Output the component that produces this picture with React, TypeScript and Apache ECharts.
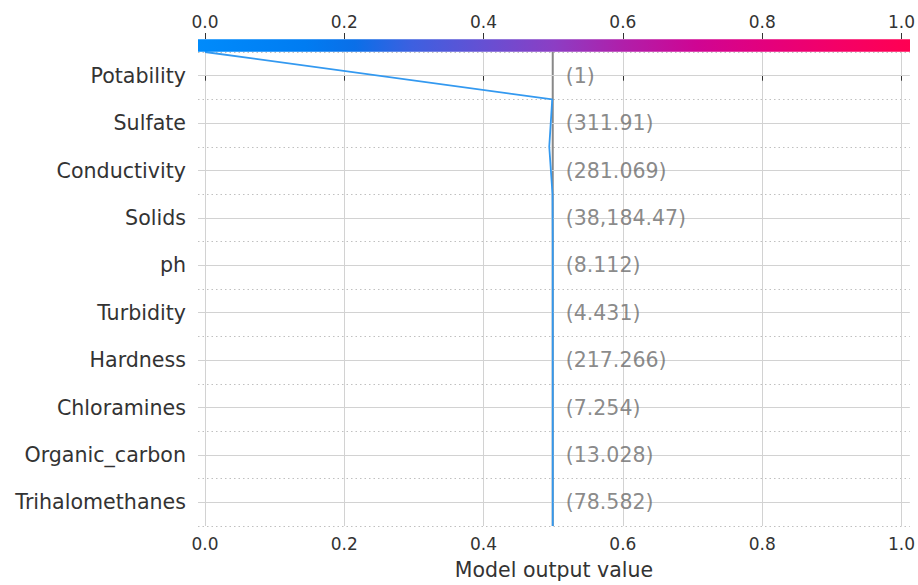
import React, { useEffect, useRef } from "react";
import * as echarts from "echarts";

// Features, top to bottom
const features = [
  "Potability",
  "Sulfate",
  "Conductivity",
  "Solids",
  "ph",
  "Turbidity",
  "Hardness",
  "Chloramines",
  "Organic_carbon",
  "Trihalomethanes",
];
const featureValues = [
  "(1)",
  "(311.91)",
  "(281.069)",
  "(38,184.47)",
  "(8.112)",
  "(4.431)",
  "(217.266)",
  "(7.254)",
  "(13.028)",
  "(78.582)",
];
const baseValue = 0.4993;
// boundary positions (row index space, top = -0.5)
const boundaryY = [-0.5, 0.5, 1.5, 2.5, 3.5, 4.5, 5.5, 6.5, 7.5, 8.5, 9.5];
// cumulative model output at each boundary, top to bottom
const cumulative = [0.0, 0.4986, 0.4943, 0.499, 0.4993, 0.4993, 0.4993, 0.4993, 0.4993, 0.4993, 0.4993];
const xTicks = [0, 0.2, 0.4, 0.6, 0.8, 1.0];
const xMin = -0.01;
const xMax = 1.012;

const colorStops = [
  { offset: 0, color: "#008bfb" },
  { offset: 0.15, color: "#007cf2" },
  { offset: 0.22, color: "#0a6fe8" },
  { offset: 0.3, color: "#3d60e0" },
  { offset: 0.4, color: "#6550d3" },
  { offset: 0.5, color: "#8c3ec4" },
  { offset: 0.6, color: "#b11ea9" },
  { offset: 0.7, color: "#cf0593" },
  { offset: 0.8, color: "#e4007c" },
  { offset: 0.9, color: "#f40066" },
  { offset: 1, color: "#ff0052" },
];

const FONT = "DejaVu Sans";

export default function App() {
  const ref = useRef<HTMLDivElement>(null);
  useEffect(() => {
    if (!ref.current) return;
    const chart = echarts.init(ref.current, undefined, { renderer: "svg" });
    const gridLeft = 198;
    const gridRight = 8;
    const gridTop = 52;
    const gridBottom = 57.7;
    const width = 918;
    const option: any = {
      animation: false,
      backgroundColor: "#ffffff",
      textStyle: { fontFamily: FONT },
      grid: { left: gridLeft, right: gridRight, top: gridTop, bottom: gridBottom, containLabel: false },
      graphic: [
        {
          type: "rect",
          shape: { x: gridLeft, y: 39.3, width: width - gridLeft - gridRight, height: 12.4 },
          style: {
            fill: new echarts.graphic.LinearGradient(0, 0, 1, 0, colorStops),
          },
          z: 10,
        },
      ],
      xAxis: [
        {
          type: "value",
          position: "bottom",
          min: xMin,
          max: xMax,
          axisLine: { show: false },
          axisTick: { show: true, length: 5, customValues: xTicks, lineStyle: { color: "#333" } },
          axisLabel: {
            customValues: xTicks,
            formatter: (v: number) => v.toFixed(1),
            fontSize: 17,
            color: "#333",
            margin: 9,
            fontFamily: FONT,
          },
          splitLine: { show: true, lineStyle: { color: "#d2d2d2", width: 1 } },
          name: "Model output value",
          nameLocation: "middle",
          nameGap: 33,
          nameTextStyle: { fontSize: 20.5, color: "#333", fontFamily: FONT },
        },
        {
          type: "value",
          position: "top",
          offset: 13,
          min: xMin,
          max: xMax,
          axisLine: { show: false },
          axisTick: { show: true, length: 6, customValues: xTicks, lineStyle: { color: "#333" } },
          axisLabel: {
            customValues: xTicks,
            formatter: (v: number) => v.toFixed(1),
            fontSize: 17,
            color: "#333",
            margin: 9,
            fontFamily: FONT,
          },
          splitLine: { show: false },
        },
      ],
      yAxis: [
        {
          type: "category",
          data: features,
          inverse: true,
          boundaryGap: true,
          axisLine: { show: false },
          axisTick: { show: false },
          axisLabel: { fontSize: 20.6, color: "#333", margin: 12, fontFamily: FONT },
          splitLine: { show: true, lineStyle: { color: "#c0c0c0", type: [1.5, 3], width: 1 } },
        },
        {
          type: "value",
          min: -0.5,
          max: 9.5,
          inverse: true,
          show: false,
          splitLine: { show: false },
        },
      ],
      series: [
        {
          type: "line",
          xAxisIndex: 0,
          yAxisIndex: 1,
          data: [],
          silent: true,
          markLine: {
            silent: true,
            symbol: ["none", "none"],
            label: { show: false },
            lineStyle: { type: "solid", color: "#d2d2d2", width: 1 },
            data: features.map((_, i) => ({ yAxis: i })),
          },
          z: 1,
        },
        {
          type: "line",
          xAxisIndex: 0,
          yAxisIndex: 1,
          data: [
            [baseValue, boundaryY[0]],
            [baseValue, boundaryY[boundaryY.length - 1]],
          ],
          showSymbol: false,
          symbol: "none",
          lineStyle: { color: "#888888", width: 2 },
          silent: true,
          clip: false,
          z: 3,
        },
        {
          type: "line",
          xAxisIndex: 0,
          yAxisIndex: 1,
          data: boundaryY.map((y, i) => [cumulative[i], y]),
          showSymbol: false,
          symbol: "none",
          lineStyle: { color: "#3399f0", width: 1.8 },
          silent: true,
          clip: false,
          z: 5,
        },
        {
          type: "scatter",
          xAxisIndex: 0,
          yAxisIndex: 1,
          symbolSize: 0,
          silent: true,
          data: features.map((_, i) => [baseValue, i, featureValues[i]]),
          label: {
            show: true,
            position: "right",
            distance: 13,
            formatter: (p: any) => p.data[2],
            color: "#6b6b6b",
            fontSize: 20.5,
            fontFamily: FONT,
          },
          z: 6,
        },
      ],
    };
    chart.setOption(option);
    return () => chart.dispose();
  }, []);
  return (
    <div
      ref={ref}
      style={{ position: "fixed", left: 0, top: 0, width: 918, height: 585, background: "#fff" }}
    />
  );
}
